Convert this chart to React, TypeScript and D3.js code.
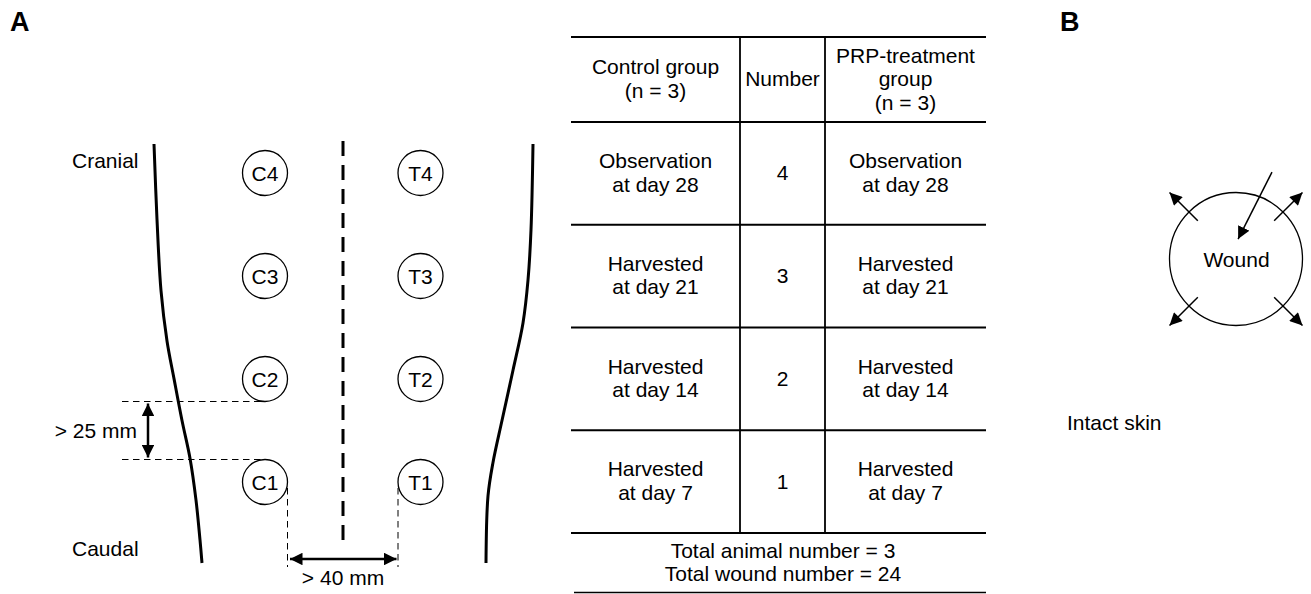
import * as d3 from "d3";

// ---- data ----
const WOUND_ROWS = [4, 3, 2, 1];
const CONTROL_IDS = ["C4", "C3", "C2", "C1"];
const TREAT_IDS = ["T4", "T3", "T2", "T1"];

// trunk outline: [percent along trunk (cranial -> caudal), half width from midline]
const LEFT_EDGE: [number, number][] = [
  [0, 189], [18, 186], [35, 182], [47, 176], [56, 169],
  [66, 161], [75, 153], [85, 147], [94.5, 143], [100, 141],
];
const RIGHT_EDGE: [number, number][] = [
  [0, 190], [20.5, 188], [32.5, 185], [42.7, 180], [54, 170],
  [66, 159], [76, 150], [84, 145], [100, 143],
];

const HEADERS = [["Control group", "(n = 3)"], ["Number"], ["PRP-treatment", "group", "(n = 3)"]];
const TIMEPOINTS = [
  ["Observation", "at day 28"],
  ["Harvested", "at day 21"],
  ["Harvested", "at day 14"],
  ["Harvested", "at day 7"],
];
const NUMBERS = ["4", "3", "2", "1"];
const TOTALS = ["Total animal number = 3", "Total wound number = 24"];

// wound contraction arrows (degrees, svg orientation)
const SPREAD_ANGLES = [-135, -45, 135, 45];
const INWARD: [number, number][] = [[94, -67.5], [20, -84]]; // [radius, angle]

// ---- layout ----
const W = 1311;
const H = 594;
const FONT = "'Liberation Sans', Arial, Helvetica, sans-serif";
const FS = 21;
const LH = 23.5;
const MID = 343; // body midline
const WOUND_R = 22.5;
const WOUND_DX = 78; // wound column offset from midline
const COLS = [571, 740, 825, 986];
const TABLE_TOP = 37;
const TABLE_BOTTOM = 593;
const B_CX = 1236;
const B_CY = 259;
const B_R = 66.5;

function Lines({ x, cy, lines, anchor = "middle" }: { x: number; cy: number; lines: string[]; anchor?: string }) {
  return (
    <text textAnchor={anchor}>
      {lines.map((l, i) => (
        <tspan key={i} x={x} y={cy + (i - (lines.length - 1) / 2) * LH + 7}>
          {l}
        </tspan>
      ))}
    </text>
  );
}

export default function App() {
  const yWound = d3.scaleLinear().domain([4, 1]).range([173, 482]);
  const xBody = d3.scaleLinear().domain([-200, 200]).range([MID - 200, MID + 200]);
  const yBody = d3.scaleLinear().domain([0, 100]).range([144, 563]);

  const leftLine = d3
    .line<[number, number]>()
    .x((d) => xBody(-d[1]))
    .y((d) => yBody(d[0]))
    .curve(d3.curveCatmullRom.alpha(0.5));
  const rightLine = d3
    .line<[number, number]>()
    .x((d) => xBody(d[1]))
    .y((d) => yBody(d[0]))
    .curve(d3.curveCatmullRom.alpha(0.5));

  const xC = xBody(-WOUND_DX);
  const xT = xBody(WOUND_DX - 0.5);

  const rowY = d3.scaleLinear().domain([0, TIMEPOINTS.length]).range([122, 533]);
  const colMid = (i: number) => (COLS[i] + COLS[i + 1]) / 2;

  const polar = (r: number, deg: number) => {
    const a = (deg * Math.PI) / 180;
    return [B_CX + r * Math.cos(a), B_CY + r * Math.sin(a)];
  };

  // 25 mm bracket between C2 bottom and C1 top
  const y25a = yWound(2) + WOUND_R;
  const y25b = yWound(1) - WOUND_R;
  const x25 = 148;
  const y40 = 559;

  const [inS, inE] = INWARD.map(([r, a]) => polar(r, a));

  return (
    <svg
      width={W}
      height={H}
      style={{ position: "absolute", left: 0, top: 0, background: "#fff" }}
      fontFamily={FONT}
      fontSize={FS}
    >
      <defs>
        <marker
          id="head"
          viewBox="0 0 10 10"
          refX={10}
          refY={5}
          markerUnits="userSpaceOnUse"
          markerWidth={13}
          markerHeight={12.5}
          orient="auto-start-reverse"
        >
          <path d="M0,0 L10,5 L0,10 Z" fill="#000" />
        </marker>
      </defs>

      {/* panel labels */}
      <text x={10} y={31} fontSize={27} fontWeight="bold">A</text>
      <text x={1060} y={31} fontSize={27} fontWeight="bold">B</text>

      {/* ---- Panel A: dorsal wound layout ---- */}
      <path d={leftLine(LEFT_EDGE) ?? ""} fill="none" stroke="#000" strokeWidth={3} />
      <path d={rightLine(RIGHT_EDGE) ?? ""} fill="none" stroke="#000" strokeWidth={3} />
      <line x1={MID} x2={MID} y1={141} y2={541} stroke="#000" strokeWidth={3} strokeDasharray="15,9" />

      <text x={72} y={168}>Cranial</text>
      <text x={72} y={556}>Caudal</text>

      {WOUND_ROWS.map((w, i) => (
        <g key={w}>
          <circle cx={xC} cy={yWound(w)} r={WOUND_R} fill="#fff" stroke="#000" strokeWidth={1.3} />
          <text x={xC} y={yWound(w) + 7.5} textAnchor="middle">{CONTROL_IDS[i]}</text>
          <circle cx={xT} cy={yWound(w)} r={WOUND_R} fill="#fff" stroke="#000" strokeWidth={1.3} />
          <text x={xT} y={yWound(w) + 7.5} textAnchor="middle">{TREAT_IDS[i]}</text>
        </g>
      ))}

      {/* > 25 mm */}
      {[y25a, y25b].map((y, i) => (
        <line key={i} x1={122} x2={xC + 2} y1={y} y2={y} stroke="#000" strokeWidth={1} strokeDasharray="6.5,4.5" />
      ))}
      <line x1={x25} x2={x25} y1={y25a + 2} y2={y25b - 2} stroke="#000" strokeWidth={2.5}
        markerStart="url(#head)" markerEnd="url(#head)" />
      <text x={137} y={(y25a + y25b) / 2 + 7.5} textAnchor="end">&gt; 25 mm</text>

      {/* > 40 mm */}
      {[xC + WOUND_R, xT - WOUND_R].map((x, i) => (
        <line key={i} x1={x} x2={x} y1={yWound(1) + 6} y2={567} stroke="#000" strokeWidth={1} strokeDasharray="6.5,4.5" />
      ))}
      <line x1={xC + WOUND_R + 2.5} x2={xT - WOUND_R - 1.5} y1={y40} y2={y40} stroke="#000" strokeWidth={2.5}
        markerStart="url(#head)" markerEnd="url(#head)" />
      <text x={MID} y={585} textAnchor="middle">&gt; 40 mm</text>

      {/* ---- table ---- */}
      <g stroke="#000" strokeWidth={1.8}>
        {[TABLE_TOP, ...d3.range(TIMEPOINTS.length + 1).map((i) => rowY(i))].map((y, i) => (
          <line key={i} x1={COLS[0]} x2={COLS[3]} y1={y} y2={y} />
        ))}
        <line x1={COLS[0] + 3} x2={COLS[3]} y1={TABLE_BOTTOM - 0.5} y2={TABLE_BOTTOM - 0.5} strokeWidth={1.4} />
        {[COLS[1], COLS[2]].map((x, i) => (
          <line key={i} x1={x} x2={x} y1={TABLE_TOP} y2={rowY(TIMEPOINTS.length)} />
        ))}
      </g>
      {HEADERS.map((h, i) => (
        <Lines key={i} x={colMid(i)} cy={(TABLE_TOP + rowY(0)) / 2 - 0.5} lines={h} />
      ))}
      {TIMEPOINTS.map((t, i) => {
        const cy = (rowY(i) + rowY(i + 1)) / 2;
        return (
          <g key={i}>
            <Lines x={colMid(0)} cy={cy - 0.5} lines={t} />
            <Lines x={colMid(1)} cy={cy} lines={[NUMBERS[i]]} />
            <Lines x={colMid(2)} cy={cy - 0.5} lines={t} />
          </g>
        );
      })}
      <Lines x={783} cy={(rowY(TIMEPOINTS.length) + TABLE_BOTTOM) / 2 - 0.5} lines={TOTALS} />

      {/* ---- Panel B: wound ---- */}
      <circle cx={B_CX} cy={B_CY} r={B_R} fill="none" stroke="#000" strokeWidth={1.3} />
      <text x={B_CX + 0.5} y={B_CY + 8} textAnchor="middle">Wound</text>
      {SPREAD_ANGLES.map((a, i) => {
        const [x1, y1] = polar(54, a);
        const [x2, y2] = polar(94, a);
        return (
          <line key={i} x1={x1} y1={y1} x2={x2} y2={y2} stroke="#000" strokeWidth={1.5} markerEnd="url(#head)" />
        );
      })}
      <line x1={inS[0]} y1={inS[1]} x2={inE[0]} y2={inE[1]} stroke="#000" strokeWidth={1.5} markerEnd="url(#head)" />
      <text x={1067} y={430}>Intact skin</text>
    </svg>
  );
}
